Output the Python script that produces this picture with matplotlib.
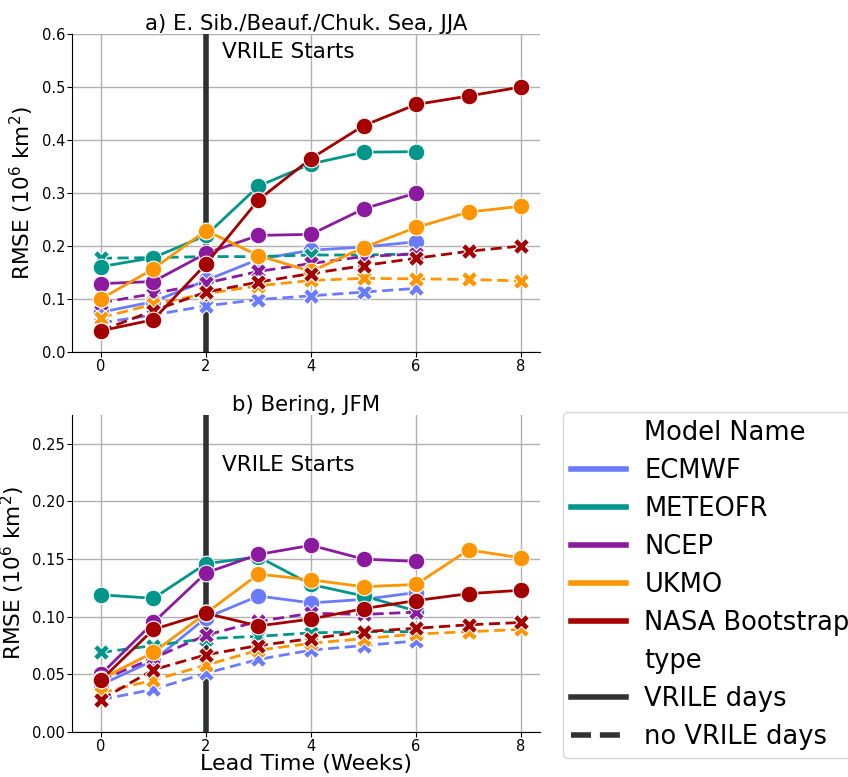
import matplotlib
matplotlib.use("Agg")
import matplotlib.pyplot as plt
from matplotlib.lines import Line2D

weeks = [0, 1, 2, 3, 4, 5, 6, 7, 8]
models = ["ECMWF", "METEOFR", "NCEP", "UKMO", "NASA Bootstrap"]
colores = ["#6b7bff", "#00968a", "#8c1a9f", "#ff9500", "#a50000"]

# panel a) E. Sib./Beauf./Chuk. Sea, JJA  (VRILE days / no VRILE days)
a_vrile = {
    "ECMWF": [0.075, 0.095, 0.135, 0.175, 0.192, 0.198, 0.208],
    "METEOFR": [0.161, 0.178, 0.220, 0.313, 0.355, 0.377, 0.378],
    "NCEP": [0.129, 0.133, 0.186, 0.220, 0.222, 0.270, 0.300],
    "UKMO": [0.100, 0.157, 0.229, 0.182, 0.152, 0.197, 0.235, 0.264, 0.275],
    "NASA Bootstrap": [0.040, 0.061, 0.166, 0.287, 0.365, 0.427, 0.467, 0.483, 0.500],
}
a_novrile = {
    "ECMWF": [0.055, 0.070, 0.087, 0.099, 0.106, 0.113, 0.120],
    "METEOFR": [0.177, 0.178, 0.180, 0.180, 0.183, 0.183, 0.185],
    "NCEP": [0.093, 0.110, 0.130, 0.152, 0.167, 0.180, 0.185],
    "UKMO": [0.065, 0.090, 0.110, 0.125, 0.135, 0.139, 0.138, 0.137, 0.134],
    "NASA Bootstrap": [0.040, 0.078, 0.113, 0.132, 0.148, 0.163, 0.177, 0.190, 0.200],
}

# panel b) Bering, JFM
b_vrile = {
    "ECMWF": [0.041, 0.062, 0.099, 0.118, 0.112, 0.115, 0.121],
    "METEOFR": [0.119, 0.116, 0.146, 0.152, 0.128, 0.118, 0.105],
    "NCEP": [0.050, 0.095, 0.138, 0.154, 0.162, 0.150, 0.148],
    "UKMO": [0.046, 0.069, 0.103, 0.137, 0.132, 0.126, 0.128, 0.158, 0.151],
    "NASA Bootstrap": [0.045, 0.089, 0.103, 0.092, 0.098, 0.107, 0.114, 0.120, 0.123],
}
b_novrile = {
    "ECMWF": [0.028, 0.037, 0.051, 0.063, 0.071, 0.075, 0.079],
    "METEOFR": [0.069, 0.075, 0.081, 0.083, 0.086, 0.087, 0.087],
    "NCEP": [0.045, 0.064, 0.084, 0.096, 0.103, 0.102, 0.104],
    "UKMO": [0.034, 0.045, 0.058, 0.071, 0.077, 0.081, 0.085, 0.087, 0.089],
    "NASA Bootstrap": [0.028, 0.054, 0.067, 0.075, 0.081, 0.087, 0.090, 0.093, 0.095],
}

fig = plt.figure(figsize=(8.48, 7.77), dpi=100)
ax1 = fig.add_axes([72/848, 1-352/777, 468/848, 318/777])
ax2 = fig.add_axes([72/848, 1-732/777, 468/848, 317/777])


def dibujar(ax, vrile, novrile, ymax, yticks, titulo, ytexto):
    ax.set_axisbelow(True)
    ax.grid(True, color="#b0b0b0", lw=1)
    ax.axvline(2, color="#2d3230", lw=4, zorder=2)
    for m, c in zip(models, colores):
        y = novrile[m]
        ax.plot(weeks[:len(y)], y, color=c, ls="--", lw=2, marker="X", ms=11,
                mec="white", mew=0.8, dashes=(4, 2), zorder=3)
        y = vrile[m]
        ax.plot(weeks[:len(y)], y, color=c, ls="-", lw=2, marker="o", ms=12,
                mec="white", mew=0.8, zorder=3)
    ax.set_xlim(-0.55, 8.36)
    ax.set_ylim(0, ymax)
    ax.set_xticks([0, 2, 4, 6, 8])
    ax.set_yticks(yticks)
    ax.tick_params(labelsize=10.5, length=3.5, pad=1.5)
    ax.spines["top"].set_visible(False)
    ax.spines["right"].set_visible(False)
    ax.set_title(titulo, fontsize=15.3, pad=3)
    ax.set_ylabel("RMSE (10$^6$ km$^2$)", fontsize=15.6, labelpad=4)
    ax.text(2.3, ytexto, "VRILE Starts", fontsize=15.5, va="center", zorder=4)


dibujar(ax1, a_vrile, a_novrile, 0.6, [0.0, 0.1, 0.2, 0.3, 0.4, 0.5, 0.6],
        "a) E. Sib./Beauf./Chuk. Sea, JJA", 0.566)
dibujar(ax2, b_vrile, b_novrile, 0.275, [0.0, 0.05, 0.1, 0.15, 0.2, 0.25],
        "b) Bering, JFM", 0.232)
ax2.set_yticklabels(["0.00", "0.05", "0.10", "0.15", "0.20", "0.25"])
ax2.set_xlabel("Lead Time (Weeks)", fontsize=16, labelpad=0)

# leyenda estilo seaborn con subtitulos
vacio = Line2D([], [], color="none")
handles = [vacio] + [Line2D([], [], color=c, lw=4) for c in colores] + [
    vacio,
    Line2D([], [], color="#333333", lw=4),
    Line2D([], [], color="#333333", lw=4, ls="--", dashes=(3.6, 1.6)),
]
labels = ["Model Name"] + models + ["type", "VRILE days", "no VRILE days"]
fig.legend(handles, labels, loc="upper left", bbox_to_anchor=(563/848, 1-412/777),
           fontsize=18.5, frameon=True, handlelength=2.15, labelspacing=0.47,
           borderpad=0.3, handletextpad=0.72, borderaxespad=0,
           framealpha=0.8, edgecolor="#cccccc")

fig.savefig("out.png", dpi=100)
